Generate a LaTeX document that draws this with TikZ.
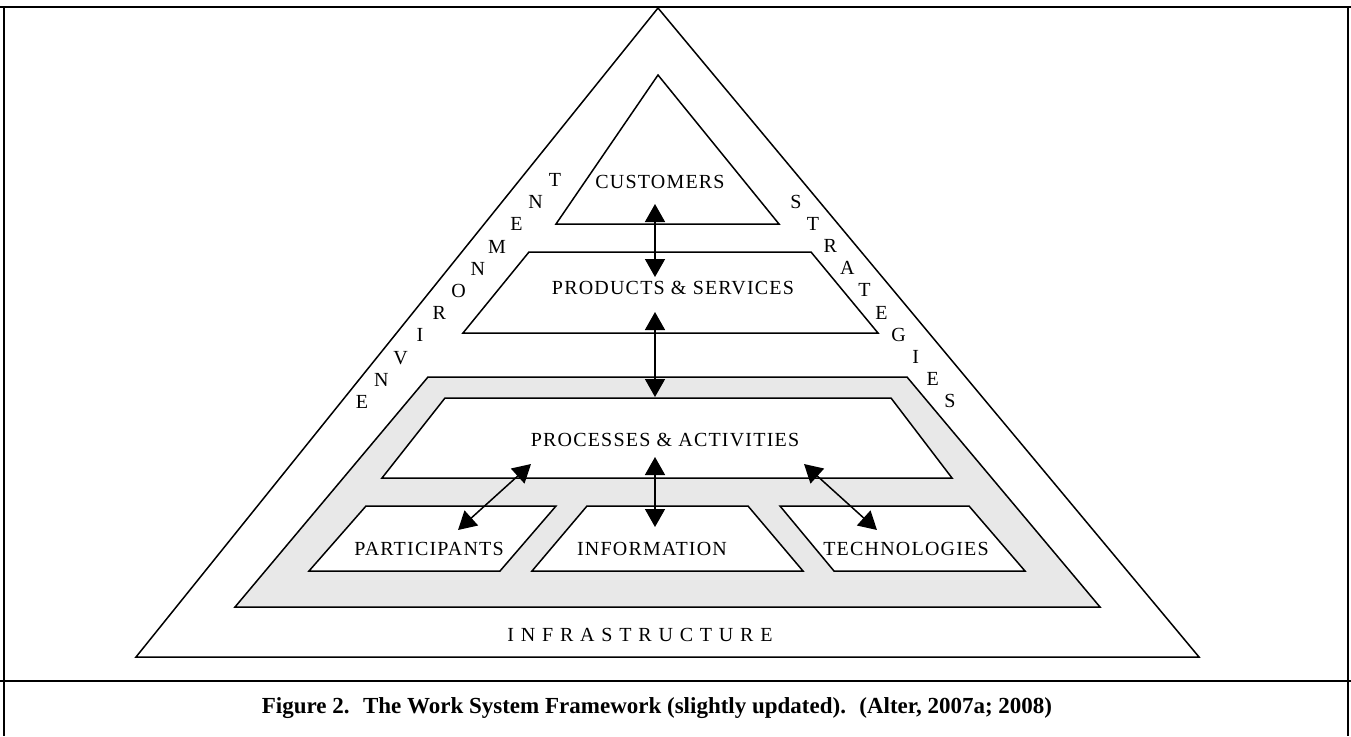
\documentclass[tikz,border=0pt]{standalone}
\usepackage{fontspec}
\setmainfont{Liberation Serif}
\newfontfamily\spacedfont[LetterSpace=6]{Liberation Serif}
\newfontfamily\widefont[LetterSpace=34]{Liberation Serif}
\usepackage{tikz}
\usetikzlibrary{arrows.meta}
\definecolor{panelgray}{gray}{0.91}
\tikzstyle{outline} = [draw, line width=0.75pt, line join=miter]
\tikzstyle{panel} = [outline, fill=panelgray]
\tikzstyle{boxtext} = [font=\fontsize{10}{12}\spacedfont, inner sep=0pt]
\tikzstyle{sidetext} = [font=\fontsize{10}{12}\selectfont, inner sep=0pt]
\tikzstyle{frame} = [draw, line width=1.2pt]
\tikzstyle{link} = [draw, line width=0.75pt, {Triangle[length=9pt,width=10pt]}-{Triangle[length=9pt,width=10pt]}]

\begin{document}
\begin{tikzpicture}[x=0.5pt,y=-0.5pt]
  \useasboundingbox (0,0) rectangle (1351,736);

  % frame and caption box
  \path [frame] (0,7) -- (1351,7);
  \path [frame] (0,681) -- (1351,681);
  \path [draw, line width=0.7pt] (4,7) -- (4,736);
  \path [draw, line width=0.7pt] (1348,7) -- (1348,736);

  % pyramid
  \path [outline] (658,8) -- (1199,657) -- (136,657) -- cycle;
  \path [outline] (658,75) -- (779,224) -- (556,224) -- cycle;
  \path [outline] (529,252) -- (811,252) -- (878,333) -- (463,333) -- cycle;
  \path [panel] (428,377) -- (907,377) -- (1100,607) -- (235,607) -- cycle;
  \path [outline, fill=white] (445,398) -- (891,398) -- (952,478) -- (382,478) -- cycle;
  \path [outline, fill=white] (366,506) -- (556,506) -- (500,571) -- (309,571) -- cycle;
  \path [outline, fill=white] (587,506) -- (748,506) -- (803,571) -- (532,571) -- cycle;
  \path [outline, fill=white] (780,506) -- (969,506) -- (1025,571) -- (834,571) -- cycle;

  \node [boxtext] (customers) at (660,182) {CUSTOMERS};
  \node [boxtext] (products) at (673,288) {PRODUCTS \& SERVICES};
  \node [boxtext] (processes) at (665,440) {PROCESSES \& ACTIVITIES};
  \node [boxtext] (participants) at (429,549) {PARTICIPANTS};
  \node [boxtext] (information) at (652,549) {INFORMATION};
  \node [boxtext] (technologies) at (906,549) {TECHNOLOGIES};
  \node [sidetext, font=\fontsize{10}{12}\widefont] (infra) at (640,635) {INFRASTRUCTURE};

  \foreach \ch [count=\i from 0] in {E,N,V,I,R,O,N,M,E,N,T}
    \node [sidetext] (env-\i) at ({362+19.3*\i},{402-22.2*\i}) {\ch};
  \foreach \ch [count=\i from 0] in {S,T,R,A,T,E,G,I,E,S}
    \node [sidetext] (strat-\i) at ({796+17.1*\i},{202+22.1*\i}) {\ch};

  % arrow ends
  \coordinate (cust-in) at (655,204);
  \coordinate (prod-top) at (655,277);
  \coordinate (prod-in) at (655,312);
  \coordinate (proc-top) at (655,397);
  \coordinate (proc-mid) at (655,457);
  \coordinate (info-top) at (655,527);
  \coordinate (proc-left) at (531,464);
  \coordinate (part-top) at (458,530);
  \coordinate (proc-right) at (804,464);
  \coordinate (tech-top) at (877,530);

  \path [link] (cust-in) -- (prod-top);
  \path [link] (prod-in) -- (proc-top);
  \path [link] (proc-mid) -- (info-top);
  \path [link] (proc-left) -- (part-top);
  \path [link] (proc-right) -- (tech-top);

  \node [font=\fontsize{11.5}{13}\bfseries] (caption) at (657,708)
    {Figure 2.~ The Work System Framework (slightly updated).~ (Alter, 2007a; 2008)};
\end{tikzpicture}
\end{document}
